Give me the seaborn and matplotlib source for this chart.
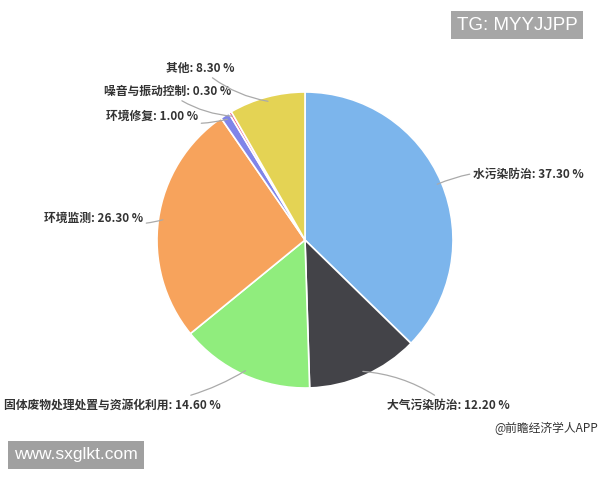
import numpy as np
import matplotlib
matplotlib.use("Agg")
import matplotlib.pyplot as plt
import seaborn as sns

# data
categories = ["水污染防治", "大气污染防治", "固体废物处理处置与资源化利用", "环境监测",
              "环境修复", "噪音与振动控制", "其他"]
shares = [37.30, 12.20, 14.60, 26.30, 1.00, 0.30, 8.30]
colors = ["#7cb5ec", "#434348", "#90ed7d", "#f7a35c", "#8085e9", "#f15c80", "#e4d354"]

# label anchor (x, y in pixel-ish coords, top-left origin), alignment
label_pos = [(476, 174, "left"), (390, 405, "left"), (218, 405, "right"),
             (140, 218, "right"), (195, 116, "right"), (228, 91, "right"),
             (232, 68, "right")]

sns.set_theme(style="white")
plt.rcParams["font.family"] = ["Noto Sans CJK SC", "DejaVu Sans"]

fig = plt.figure(figsize=(6, 4.8), dpi=100)
ax = fig.add_axes([0, 0, 1, 1])

cx, cy, r = 305, 240, 148
wedges, _ = ax.pie(shares, colors=colors, startangle=90, counterclock=False,
                   center=(cx, cy), radius=r, frame=True,
                   wedgeprops=dict(edgecolor="white", linewidth=1.2))
ax.set_xlim(0, 600)
ax.set_ylim(0, 480)
ax.set_aspect("equal")
ax.axis("off")

for w, name, val, (tx, ty, ha) in zip(wedges, categories, shares, label_pos):
    mid = np.deg2rad((w.theta1 + w.theta2) / 2)
    px = cx + r * 0.97 * np.cos(mid)
    py = cy + r * 0.97 * np.sin(mid)
    ex = tx + (-3 if ha == "left" else 3)
    ax.annotate(f"{name}: {val:.2f} %", xy=(px, py), xytext=(ex, 480 - ty),
                ha=ha, va="center", fontsize=8.5, fontweight="bold", color="#333333",
                arrowprops=dict(arrowstyle="-", color="#aaaaaa", lw=0.9,
                                connectionstyle="arc3,rad=0.15",
                                shrinkA=0, shrinkB=0))

ax.text(598, 480 - 428, "@前瞻经济学人APP", ha="right", va="center",
        fontsize=8.5, color="#333333")

fig.text(457 / 600, 1 - 25 / 480, "TG: MYYJJPP", ha="left", va="center",
         fontsize=13.5, color="white", family=["Liberation Sans", "DejaVu Sans"],
         bbox=dict(boxstyle="square,pad=0.3", facecolor="#a6a6a6", edgecolor="none"))
fig.text(14 / 600, 1 - 455 / 480, "www.sxglkt.com", ha="left", va="center",
         fontsize=12.5, color="white", family=["Liberation Sans", "DejaVu Sans"],
         bbox=dict(boxstyle="square,pad=0.35", facecolor="#a0a0a0", edgecolor="none"))

fig.savefig("out.png", dpi=100, facecolor="white")
